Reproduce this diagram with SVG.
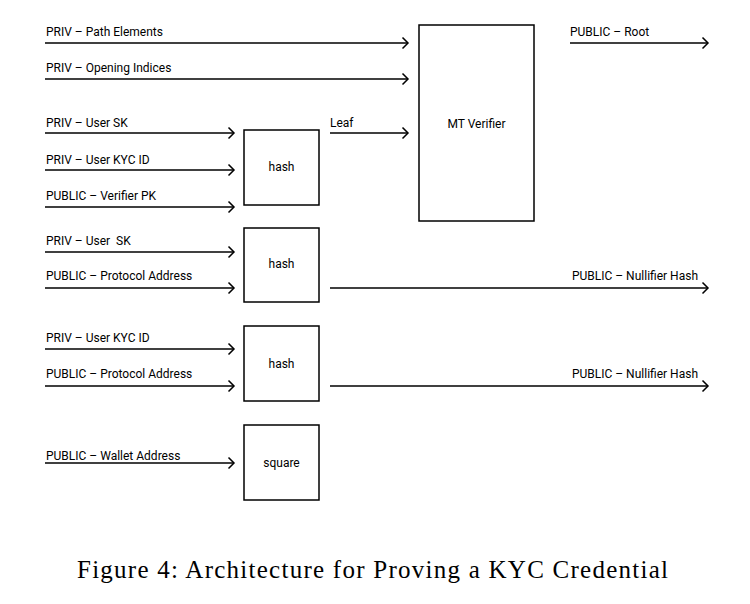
<svg xmlns="http://www.w3.org/2000/svg" width="750" height="604" viewBox="0 0 750 604">
<style>
.lbl{font-family:Roboto,"Liberation Sans",sans-serif;font-size:12px;fill:#000}
.ctr{text-anchor:middle}
.box{fill:#fff;stroke:#000;stroke-width:1.5}
.ln{stroke:#000;stroke-width:1.5;fill:none;marker-end:url(#ah)}
.cap{font-family:"Liberation Serif",serif;font-size:25px;fill:#000}
</style>
<defs>
<marker id="ah" markerWidth="10" markerHeight="14" refX="8" refY="7" orient="auto" markerUnits="userSpaceOnUse">
<polyline points="2.5,1.5 8,7 2.5,12.5" fill="none" stroke="#000" stroke-width="1.5"/>
</marker>
</defs>
<rect width="750" height="604" fill="#fff"/>
<g id="connectors">
<line class="ln" x1="45" y1="43" x2="408" y2="43"/>
<line class="ln" x1="45" y1="79" x2="408" y2="79"/>
<line class="ln" x1="45" y1="133" x2="234" y2="133"/>
<line class="ln" x1="45" y1="170" x2="234" y2="170"/>
<line class="ln" x1="45" y1="207" x2="234" y2="207"/>
<line class="ln" x1="330" y1="133" x2="408" y2="133"/>
<line class="ln" x1="570" y1="43" x2="708" y2="43"/>
<line class="ln" x1="45" y1="252" x2="234" y2="252"/>
<line class="ln" x1="45" y1="288" x2="234" y2="288"/>
<line class="ln" x1="330" y1="288" x2="708" y2="288"/>
<line class="ln" x1="45" y1="349" x2="234" y2="349"/>
<line class="ln" x1="45" y1="386" x2="234" y2="386"/>
<line class="ln" x1="330" y1="386" x2="708" y2="386"/>
<line class="ln" x1="45" y1="463" x2="234" y2="463"/>
<text class="lbl" x="46" y="36">PRIV – Path Elements</text>
<text class="lbl" x="46" y="72">PRIV – Opening Indices</text>
<text class="lbl" x="46" y="127">PRIV – User SK</text>
<text class="lbl" x="46" y="164">PRIV – User KYC ID</text>
<text class="lbl" x="46" y="200">PUBLIC – Verifier PK</text>
<text class="lbl" x="330" y="127">Leaf</text>
<text class="lbl" x="570" y="36">PUBLIC – Root</text>
<text class="lbl" x="46" y="245" xml:space="preserve" style="white-space:pre">PRIV – User  SK</text>
<text class="lbl" x="46" y="280">PUBLIC – Protocol Address</text>
<text class="lbl" x="698" y="280" text-anchor="end">PUBLIC – Nullifier Hash</text>
<text class="lbl" x="46" y="342">PRIV – User KYC ID</text>
<text class="lbl" x="46" y="378">PUBLIC – Protocol Address</text>
<text class="lbl" x="698" y="378" text-anchor="end">PUBLIC – Nullifier Hash</text>
<text class="lbl" x="46" y="460">PUBLIC – Wallet Address</text>
</g>
<g id="mt-verifier">
<rect class="box" x="419" y="25" width="115" height="196"/>
<text class="lbl ctr" x="476.5" y="128">MT Verifier</text>
</g>
<g id="hash1">
<rect class="box" x="244" y="130" width="75" height="75"/>
<text class="lbl ctr" x="281.5" y="171">hash</text>
</g>
<g id="hash2">
<rect class="box" x="244" y="228" width="75" height="74"/>
<text class="lbl ctr" x="281.5" y="268">hash</text>
</g>
<g id="hash3">
<rect class="box" x="244" y="326" width="75" height="75"/>
<text class="lbl ctr" x="281.5" y="368">hash</text>
</g>
<g id="square">
<rect class="box" x="244" y="425" width="75" height="75"/>
<text class="lbl ctr" x="281.5" y="467">square</text>
</g>
<text class="cap" x="77" y="578" textLength="591" lengthAdjust="spacing">Figure 4: Architecture for Proving a KYC Credential</text>
</svg>
